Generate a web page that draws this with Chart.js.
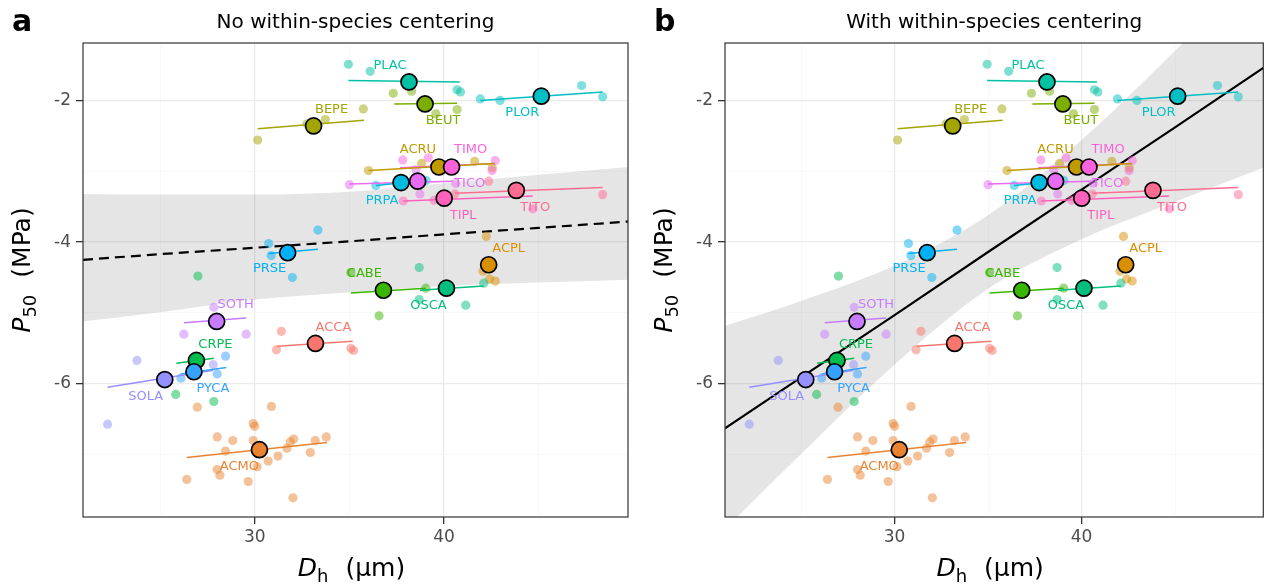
<!DOCTYPE html>
<html><head><meta charset="utf-8">
<script src="https://cdn.jsdelivr.net/npm/chart.js@4"></script>
<style>
html,body{margin:0;padding:0;background:#fff;}
#wrap{position:relative;width:1273px;height:585px;overflow:hidden;background:#fff;}
canvas{position:absolute;top:0;}
</style></head><body>
<div id="wrap">
<canvas id="ca" width="640" height="585" style="left:0px"></canvas>
<canvas id="cb" width="633" height="585" style="left:640px"></canvas>
</div>
<script>
// ---------------- DATA ----------------
const species = ["ACCA","ACMO","ACPL","ACRU","BEPE","BEUT","CABE","CRPE","OSCA","PLAC",
                 "PLOR","PRPA","PRSE","PYCA","SOLA","SOTH","TICO","TIMO","TIPL","TITO"];
const meanDh  = [33.21,30.25,42.36,39.73,33.11,39.00,36.80,26.92,40.13,38.15,
                 45.14,37.73,31.74,26.79,25.25,27.99,38.61,40.40,40.01,43.82];
const meanP50 = [-5.43,-6.93,-4.32,-2.94,-2.36,-2.05,-4.68,-5.67,-4.65,-1.74,
                 -1.94,-3.16,-4.15,-5.83,-5.94,-5.12,-3.14,-2.94,-3.38,-3.27];
const fitDhStart  = [31.18,26.41,42.06,36.01,30.16,37.37,35.08,25.86,38.73,34.95,
                     41.92,36.40,30.74,26.09,22.23,26.26,35.00,37.68,37.85,40.57];
const fitDhEnd    = [35.18,33.82,42.71,42.68,35.78,40.69,39.04,27.84,42.10,40.83,
                     48.38,39.05,33.34,28.50,27.81,29.55,40.48,42.68,44.69,48.38];
const fitP50Start = [-5.47,-7.04,-4.33,-2.99,-2.40,-2.05,-4.72,-5.71,-4.68,-1.72,
                     -2.00,-3.20,-4.16,-5.86,-6.05,-5.14,-3.18,-2.95,-3.42,-3.31];
const fitP50End   = [-5.40,-6.83,-4.31,-2.89,-2.28,-2.04,-4.65,-5.64,-4.62,-1.74,
                     -1.88,-3.13,-4.10,-5.77,-5.81,-5.07,-3.14,-2.89,-3.35,-3.23];

const obsSpecies = [
 "ACCA","ACCA","ACCA","ACCA",
 "ACMO","ACMO","ACMO","ACMO","ACMO","ACMO","ACMO","ACMO","ACMO","ACMO","ACMO",
 "ACMO","ACMO","ACMO","ACMO","ACMO","ACMO","ACMO","ACMO","ACMO","ACMO","ACMO",
 "ACPL","ACPL","ACPL","ACPL",
 "ACRU","ACRU","ACRU","ACRU",
 "BEPE","BEPE","BEPE","BEPE",
 "BEUT","BEUT","BEUT","BEUT",
 "CABE","CABE","CABE",
 "CRPE","CRPE","CRPE",
 "OSCA","OSCA","OSCA","OSCA",
 "PLAC","PLAC","PLAC","PLAC",
 "PLOR","PLOR","PLOR","PLOR",
 "PRPA","PRPA",
 "PRSE","PRSE","PRSE","PRSE",
 "PYCA","PYCA","PYCA",
 "SOLA","SOLA","SOLA",
 "SOTH","SOTH","SOTH",
 "TICO","TICO","TICO","TICO",
 "TIMO","TIMO","TIMO","TIMO",
 "TIPL","TIPL","TIPL",
 "TITO","TITO","TITO"];
const obsDh = [
 35.08,35.22,31.41,31.15,
 26.97,30.88,29.92,30.00,28.02,28.84,29.92,28.46,32.06,31.88,31.71,
 31.23,30.71,30.13,33.20,33.78,32.94,28.02,28.16,26.41,29.66,32.02,
 42.24,42.06,42.41,42.71,
 36.01,38.82,41.62,42.55,
 30.16,32.76,33.73,35.74,
 37.32,38.29,39.57,40.69,
 35.08,36.57,39.04,
 27.00,25.83,27.84,
 38.69,38.69,41.15,42.10,
 34.95,36.10,40.69,40.87,
 41.92,42.96,47.27,48.38,
 36.40,39.05,
 30.74,30.87,33.34,31.99,
 28.46,28.02,26.10,
 23.78,22.23,27.81,
 27.84,26.26,29.55,
 35.00,38.73,40.62,38.52,
 37.82,39.17,42.71,42.54,
 37.85,44.69,39.48,
 48.38,42.36,40.57];
const obsP50 = [
 -5.50,-5.53,-5.26,-5.52,
 -6.33,-6.32,-6.56,-6.60,-6.75,-6.80,-6.80,-6.95,-6.78,-6.82,-6.91,
 -7.02,-7.09,-7.17,-6.80,-6.75,-6.97,-7.21,-7.29,-7.35,-7.38,-7.61,
 -3.92,-4.41,-4.52,-4.55,
 -2.99,-2.89,-2.86,-2.95,
 -2.56,-2.33,-2.27,-2.12,
 -1.90,-1.87,-2.19,-2.13,
 -4.43,-5.04,-4.65,
 -4.48,-6.15,-6.25,
 -4.36,-4.81,-4.89,-4.58,
 -1.49,-1.59,-1.85,-1.88,
 -1.98,-2.00,-1.79,-1.95,
 -3.20,-3.13,
 -4.02,-4.19,-3.83,-4.50,
 -5.61,-5.86,-5.92,
 -5.67,-6.57,-5.73,
 -4.92,-5.30,-5.30,
 -3.19,-3.32,-3.17,-2.98,
 -2.84,-2.81,-2.85,-2.99,
 -3.42,-3.53,-3.41,
 -3.33,-3.14,-3.32];

// overall fit and confidence band (panel a: no centering, panel b: with centering)
const bandDh    = [20.93, 25, 30, 35, 40, 45, 49.72];
const bandFitA  = [-4.25,-4.17,-4.08,-3.99,-3.89,-3.80,-3.71];
const bandLowA  = [-5.12,-4.99,-4.81,-4.71,-4.62,-4.57,-4.53];
const bandHighA = [-3.32,-3.33,-3.33,-3.29,-3.17,-3.05,-2.94];
const bandFitB  = [-6.63,-5.91,-5.03,-4.14,-3.26,-2.38,-1.54];
const bandLowB  = [-8.05,-6.99,-5.73,-4.66,-3.96,-3.43,-2.95];
const bandHighB = [-5.18,-4.83,-4.33,-3.62,-2.56,-1.30,-0.06];

const xTickLabels = [30, 40];
const yTickLabels = [-6, -4, -2];
const xMinorTicks = [25, 35, 45];
const yMinorTicks = [-7, -5, -3];
const panelTags   = ["a", "b"];
const panelTitles = ["No within-species centering", "With within-species centering"];

// ---------------- STYLE ----------------
const speciesColors = ["#F8766D","#EA8331","#D89000","#C09B00","#A3A500","#7CAE00","#39B600","#00BB4E","#00BF7D","#00C1A3",
                       "#00BFC4","#00BAE0","#00B0F6","#35A2FF","#9590FF","#C77CFF","#E76BF3","#FA62DB","#FF62BC","#FF6C91"];
const labelOffsets = {
  ACCA:[18,-16], ACMO:[-20,17], ACPL:[20,-16], ACRU:[-21,-17], BEPE:[18,-16], BEUT:[18,17],
  CABE:[-19,-17], CRPE:[19,-16], OSCA:[-18,17], PLAC:[-19,-16], PLOR:[-19,16], PRPA:[-19,18],
  PRSE:[-18,16], PYCA:[19,17], SOLA:[-19,17], SOTH:[19,-17], TICO:[52,2], TIMO:[19,-17],
  TIPL:[19,17], TITO:[19,17]
};
const FONT = "'DejaVu Sans', 'Liberation Sans', sans-serif";
function hexA(hex, a){
  const n = parseInt(hex.slice(1),16);
  return `rgba(${(n>>16)&255},${(n>>8)&255},${n&255},${a})`;
}

function drawRich(ctx, parts, cx, cy, rotate){
  ctx.save();
  ctx.translate(cx, cy);
  if (rotate) ctx.rotate(-Math.PI/2);
  let total = 0;
  parts.forEach(p => { ctx.font = p.font; p.w = ctx.measureText(p.t).width + (p.gap||0); total += p.w; });
  let pos = -total/2;
  ctx.fillStyle = "#000";
  ctx.textBaseline = "alphabetic";
  ctx.textAlign = "left";
  parts.forEach(p => { ctx.font = p.font; ctx.fillText(p.t, pos, p.dy||0); pos += p.w; });
  ctx.restore();
}

const decorPlugin = {
  id: "decor",
  afterDatasetsDraw(chart, args, opts){
    const ctx = chart.ctx, xs = chart.scales.x, ys = chart.scales.y;
    ctx.save();
    ctx.font = "13px " + FONT;
    ctx.textAlign = "center";
    ctx.textBaseline = "middle";
    species.forEach((s, i) => {
      const off = labelOffsets[s];
      ctx.fillStyle = speciesColors[i];
      ctx.fillText(s, xs.getPixelForValue(meanDh[i]) + off[0], ys.getPixelForValue(meanP50[i]) + off[1]);
    });
    ctx.restore();
  },
  afterDraw(chart, args, opts){
    const ctx = chart.ctx, a = chart.chartArea;
    ctx.save();
    ctx.strokeStyle = "#333333";
    ctx.lineWidth = 1.2;
    ctx.strokeRect(a.left, a.top, a.right - a.left, a.bottom - a.top);
    ctx.restore();
    ctx.save();
    ctx.fillStyle = "#000";
    ctx.font = "20px " + FONT;
    ctx.textAlign = "center";
    ctx.textBaseline = "alphabetic";
    ctx.fillText(panelTitles[opts.panel], (a.left + a.right)/2, 28);
    ctx.font = "bold 30px " + FONT;
    ctx.textAlign = "left";
    ctx.fillText(panelTags[opts.panel], opts.tagX, 31);
    ctx.restore();
    drawRich(ctx, [
      {t:"D", font:"italic 25px " + FONT},
      {t:"h", font:"18px " + FONT, dy:6, gap:17},
      {t:"(µm)", font:"25px " + FONT}
    ], (a.left + a.right)/2 - 4, 576, false);
    drawRich(ctx, [
      {t:"P", font:"italic 25px " + FONT},
      {t:"50", font:"18px " + FONT, dy:6, gap:17},
      {t:"(MPa)", font:"25px " + FONT}
    ], opts.yTitleX, (a.top + a.bottom)/2 - 10, true);
  }
};

function makeChart(canvasId, panel, fitArr, lowArr, highArr, dashed, yAxisW, padRight, tagX, yTitleX){
  const datasets = [];
  datasets.push({ type:"line", data: bandDh.map((x,i)=>({x, y: highArr[i]})), borderColor:"transparent",
    borderWidth:0, pointRadius:0, fill:"+1", backgroundColor:"rgba(0,0,0,0.1)", order:20, clip:0,
    tension:0.4, cubicInterpolationMode:"monotone" });
  datasets.push({ type:"line", data: bandDh.map((x,i)=>({x, y: lowArr[i]})), borderColor:"transparent",
    borderWidth:0, pointRadius:0, fill:false, order:20, clip:0,
    tension:0.4, cubicInterpolationMode:"monotone" });
  datasets.push({ type:"line", data: bandDh.map((x,i)=>({x, y: fitArr[i]})), borderColor:"#000",
    borderWidth:2.2, borderDash: dashed ? [10,6] : [], pointRadius:0, fill:false, order:19, clip:0 });
  datasets.push({ type:"scatter", data: obsDh.map((x,i)=>({x, y: obsP50[i]})),
    pointRadius:4.6, pointBorderWidth:0,
    pointBackgroundColor: obsSpecies.map(s => hexA(speciesColors[species.indexOf(s)], 0.5)),
    pointBorderColor:"transparent", order:18 });
  species.forEach((s,i) => {
    datasets.push({ type:"line", data:[{x:fitDhStart[i], y:fitP50Start[i]},{x:fitDhEnd[i], y:fitP50End[i]}],
      borderColor: speciesColors[i], borderWidth:1.5, pointRadius:0, fill:false, order:10 });
  });
  datasets.push({ type:"scatter", data: meanDh.map((x,i)=>({x, y: meanP50[i]})),
    pointRadius:8, pointBorderWidth:1.7, pointBorderColor:"#000",
    pointBackgroundColor: speciesColors, order:1 });

  const isMajorX = v => xTickLabels.includes(v);
  const isMajorY = v => yTickLabels.includes(v);

  return new Chart(document.getElementById(canvasId), {
    type:"scatter",
    data:{ datasets },
    options:{
      responsive:false, animation:false, devicePixelRatio:1,
      layout:{ padding:{ left:0, right:padRight, top:43, bottom:0 } },
      plugins:{ legend:{display:false}, tooltip:{enabled:false}, decor:{ panel, tagX, yTitleX } },
      scales:{
        x:{ type:"linear", min:20.93, max:49.72,
          afterBuildTicks: sc => { sc.ticks = [...xMinorTicks, ...xTickLabels].sort((a,b)=>a-b).map(v=>({value:v})); },
          afterFit: sc => { sc.height = 68; },
          ticks:{ autoSkip:false, maxRotation:0, padding:3, color:"#4d4d4d", font:{family:FONT, size:17},
            callback: v => isMajorX(v) ? String(v) : "" },
          grid:{ color: c => (c.tick && isMajorX(c.tick.value)) ? "#EBEBEB" : "#F5F5F5",
            lineWidth: c => (c.tick && isMajorX(c.tick.value)) ? 1.3 : 0.7,
            tickColor: c => (c.tick && isMajorX(c.tick.value)) ? "#333333" : "rgba(0,0,0,0)",
            tickLength:7, drawTicks:true },
          border:{ display:false }
        },
        y:{ type:"linear", min:-7.88, max:-1.19,
          afterBuildTicks: sc => { sc.ticks = [...yMinorTicks, ...yTickLabels].sort((a,b)=>a-b).map(v=>({value:v})); },
          afterFit: sc => { sc.width = yAxisW; },
          ticks:{ autoSkip:false, padding:5, color:"#4d4d4d", font:{family:FONT, size:17},
            callback: v => isMajorY(v) ? String(v) : "" },
          grid:{ color: c => (c.tick && isMajorY(c.tick.value)) ? "#EBEBEB" : "#F5F5F5",
            lineWidth: c => (c.tick && isMajorY(c.tick.value)) ? 1.3 : 0.7,
            tickColor: c => (c.tick && isMajorY(c.tick.value)) ? "#333333" : "rgba(0,0,0,0)",
            tickLength:7, drawTicks:true },
          border:{ display:false }
        }
      }
    },
    plugins:[decorPlugin]
  });
}

makeChart("ca", 0, bandFitA, bandLowA, bandHighA, true, 83, 12, 12, 30);
makeChart("cb", 1, bandFitB, bandLowB, bandHighB, false, 85, 2, 14, 32);
</script>
</body></html>
